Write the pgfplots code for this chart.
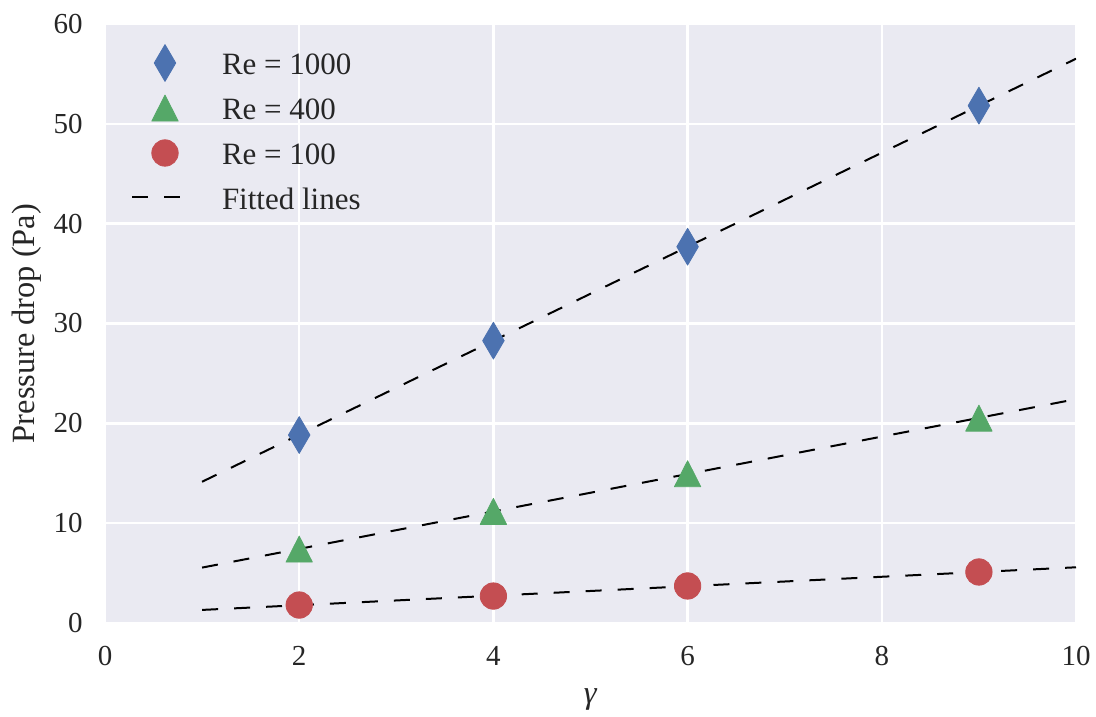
\documentclass[border=0pt]{standalone}
\usepackage{fontspec}
\setmainfont{Liberation Serif}
\usepackage{pgfplots}
\pgfplotsset{compat=1.18}

\definecolor{sbblue}{HTML}{4C72B0}
\definecolor{sbgreen}{HTML}{55A868}
\definecolor{sbred}{HTML}{C44E52}
\definecolor{panel}{HTML}{EAEAF2}
\definecolor{textgray}{HTML}{262626}

% legend handles: a single marker, or a short dashed segment,
% each in a fixed 45bp x 22.5bp cell centred on the text baseline
\pgfplotsset{
  markentry/.style={
    legend image code/.code={
      \path[draw=none, fill=none] (0bp,-11.25bp) rectangle (45bp,11.25bp);
      \begin{pgfinterruptboundingbox}
        \draw[##1] plot coordinates {(16.5bp,6bp)};
      \end{pgfinterruptboundingbox}
    }
  },
  lineentry/.style={
    legend image code/.code={
      \path[draw=none, fill=none] (0bp,-11.25bp) rectangle (45bp,11.25bp);
      \begin{pgfinterruptboundingbox}
        \draw[##1] (0bp,6.5bp) -- (25bp,6.5bp);
      \end{pgfinterruptboundingbox}
    }
  },
  fitline/.style={black, line width=1bp, dash pattern=on 8bp off 8bp, mark=none},
}

\begin{document}
\begin{tikzpicture}
\begin{axis}[
  scale only axis,
  width=485.5bp, height=299.5bp,
  at={(0,0)}, anchor=south west,
  xmin=0, xmax=10, ymin=0, ymax=60,
  xtick={0,2,4,6,8,10},
  ytick={0,10,20,30,40,50,60},
  /pgf/number format/assume math mode=true,
  axis background/.style={fill=panel},
  axis line style={draw=none},
  major tick length=0pt,
  grid=major,
  major grid style={white, line width=1.2bp},
  tick label style={font=\fontsize{14.5bp}{17bp}\selectfont, text=textgray, inner sep=0pt},
  yticklabel style={anchor=east, xshift=-11bp},
  xticklabel style={anchor=base, yshift=-21bp},
  xlabel={\textit{γ}},
  ylabel={Pressure drop (Pa)},
  label style={font=\fontsize{16.2bp}{19bp}\selectfont, text=textgray, inner sep=0pt},
  xlabel style={at={(axis description cs:0.5,-0.1352)}, anchor=base},
  ylabel style={at={(axis description cs:-0.0721,0.5)}, anchor=base},
  legend cell align=left,
  legend style={
    at={(0,1)}, anchor=north west, xshift=13.5bp, yshift=-14.25bp,
    draw=none, fill=none, inner sep=0pt, outer sep=0pt,
    row sep=0pt, column sep=0pt,
    nodes={inner sep=0pt, text height=11.25bp, text depth=11.25bp,
           font=\fontsize{15.5bp}{18bp}\selectfont, text=textgray},
  },
]

% measured pressure drops
\addplot[only marks, color=sbblue, mark=diamond*, mark size=9.2bp,
  mark options={xscale=0.78, line width=0.4bp, line join=round}, markentry]
  coordinates {(2,18.83) (4,28.28) (6,37.69) (9,51.82)};
\addlegendentry{Re = 1000}

\addplot[only marks, color=sbgreen, mark=triangle*, mark size=7.6bp,
  mark options={yshift=-2.2bp, yscale=1.14, line width=0.4bp, line join=round}, markentry]
  coordinates {(2,7.41) (4,11.19) (6,14.96) (9,20.53)};
\addlegendentry{Re = 400}

\addplot[only marks, color=sbred, mark=*, mark size=6.6bp,
  mark options={line width=0.4bp}, markentry]
  coordinates {(2,1.80) (4,2.70) (6,3.71) (9,5.11)};
\addlegendentry{Re = 100}

% linear fits, drawn over the markers
\addplot[fitline, lineentry] coordinates {(1,14.15) (10,56.52)};
\addlegendentry{Fitted lines}

\addplot[forget plot, fitline] coordinates {(1,5.55) (10,22.42)};
\addplot[forget plot, fitline] coordinates {(1,1.31) (10,5.58)};
\end{axis}
\pgfresetboundingbox
\path[use as bounding box] (-52.5bp,-47bp) rectangle (495.5bp,311.5bp);
\end{tikzpicture}
\end{document}
